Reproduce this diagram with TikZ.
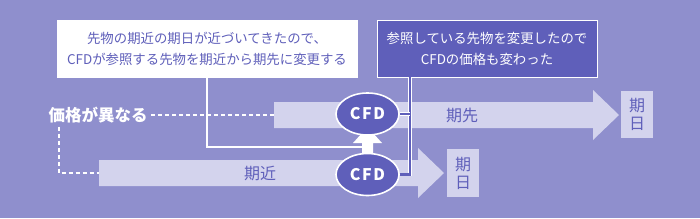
\documentclass[tikz,border=0pt]{standalone}
\usepackage{fontspec}
\newfontfamily\jp{Noto Sans CJK JP}
\usetikzlibrary{positioning,shapes.geometric}
\definecolor{bgpurple}{HTML}{8F8FCD}
\definecolor{pale}{HTML}{D3D3ED}
\definecolor{ink}{HTML}{5F5FBA}
\tikzset{
  note/.style    ={draw=white,line width=1pt,inner sep=0pt,align=center,
                   minimum height=57pt,font=\jp\fontsize{13.4}{21}\selectfont},
  cfd/.style     ={ellipse,draw=white,line width=1.6pt,fill=ink,text=white,
                   minimum width=63pt,minimum height=42pt,inner sep=0pt,
                   font=\jp\bfseries\fontsize{16}{16}\selectfont},
  daybox/.style  ={fill=pale,text=ink,inner sep=0pt,minimum width=32pt,
                   minimum height=48pt,align=center,
                   font=\jp\fontsize{16}{18}\selectfont},
  barlabel/.style={text=ink,font=\jp\fontsize{16}{16}\selectfont},
  bar/.style     ={fill=pale},
  guide/.style   ={draw=white,line width=1.2pt,dash pattern=on 4pt off 3pt},
  link/.style    ={draw=white,line width=1.8pt},
  bracket/.style ={draw=white,double=ink,double distance=2.2pt,line width=0.8pt}
}
\newcommand{\CFD}{C\kern1.6pt F\kern1.6pt D}
\begin{document}
\begin{tikzpicture}[x=1pt,y=-1pt]
  \fill[bgpurple] (0,0) rectangle (700,218);
  % bars
  \fill[bar] (274,102) -- (593,102) -- (593,90) -- (619,115)
             -- (593,140) -- (593,128) -- (274,128) -- cycle;
  \fill[bar] (99,160) -- (418,160) -- (418,148) -- (444,173)
             -- (418,198) -- (418,186) -- (99,186) -- cycle;
  \coordinate (farstart) at (274,115);
  \coordinate (nearstart) at (99,173);
  \node[barlabel] (far) at (462,115) {期先};
  \node[barlabel] (near) at (260,173) {期近};
  \node[daybox,minimum height=47pt] (farday) at (637,114.5) {期\\日};
  \node[daybox] (nearday) at (463,173) {期\\日};
  % notes
  \node[note,fill=white,text=ink,minimum width=300pt] (roll) at (207,48.5)
    {先物の期近の期日が近づいてきたので、\\CFDが参照する先物を期近から期先に変更する};
  \node[note,fill=ink,text=white,minimum width=220pt] (change) at (487,48.5)
    {参照している先物を変更したので\\CFDの価格も変わった};
  \node[text=white,font=\jp\bfseries\fontsize{16.5}{16.5}\selectfont] (diff) at (98,115) {価格が異なる};
  \draw[guide] (diff.east) -- (farstart);
  \draw[guide] ([xshift=-39pt]diff.south) |- (nearstart);
  % roll over
  \coordinate (shaft) at (362,147);
  \draw[link] (roll.south) |- (shaft);
  \fill[white] (362,157) -- (362,143) -- (353,143) -- (367.5,127)
               -- (382,143) -- (373,143) -- (373,157) -- cycle;
  \node[cfd] (cfdfar) at (367.5,114) {\CFD};
  \node[cfd] (cfdnear) at (367.5,174.5) {\CFD};
  \coordinate (drop) at (410,77);
  \draw[bracket] (drop) |- (cfdnear.east);
  \draw[bracket] (cfdfar.east) -- (cfdfar.east -| drop);
\end{tikzpicture}
\end{document}
